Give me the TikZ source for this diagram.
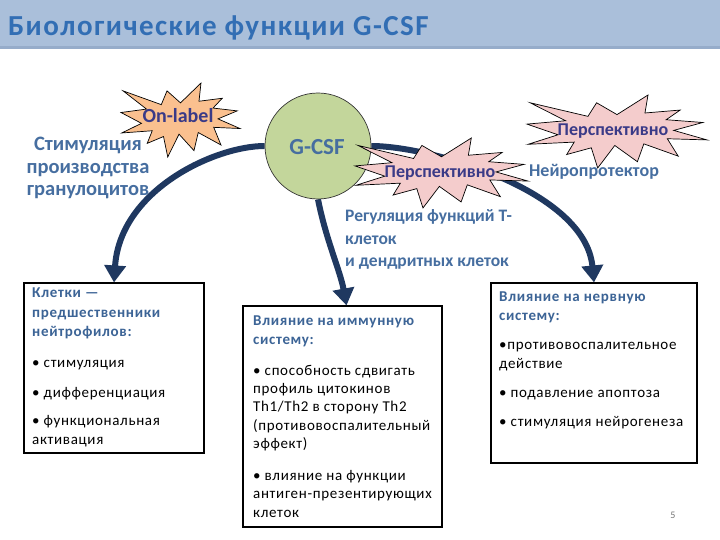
\documentclass[tikz,border=0pt]{standalone}
\usepackage{fontspec}
\setmainfont{Carlito}
\usetikzlibrary{arrows.meta,backgrounds}
\definecolor{barbg}{RGB}{170,191,218}
\definecolor{barline}{RGB}{150,172,202}
\definecolor{titleblue}{RGB}{50,110,180}
\definecolor{navy}{RGB}{31,56,96}
\definecolor{lblue}{RGB}{70,110,160}
\definecolor{purp}{RGB}{58,58,135}
\definecolor{hdrblue}{RGB}{60,100,150}
\definecolor{gcsfgreen}{RGB}{195,214,155}
\definecolor{peach}{RGB}{250,192,143}
\definecolor{pinkb}{RGB}{244,204,204}
\newcommand{\hd}{\bfseries\color{hdrblue}}
\newcommand{\burstpath}{(108,58) -- (145.22,0) -- (141.55,53.25) -- (183.8,44.57) -- (167.02,73.15) -- (210.97,81.37) -- (176.07,104.75) -- (216,132.9) -- (168.37,129.42) -- (181.45,180.95) -- (140.2,144.57) -- (132.47,197.37) -- (105.32,149.35) -- (84.85,216) -- (77.15,156.27) -- (47.62,176.17) -- (56.67,139.37) -- (1.35,145.87) -- (37.22,117.75) -- (0,86.15) -- (46.27,76.17) -- (3.7,22.95) -- (73.12,63.2) -- (83.52,22.95) -- cycle}
\tikzset{
  box/.style={draw=black, line width=1.1pt, fill=white, inner sep=0pt},
  arr/.style={draw=navy, line width=6pt, -{Triangle[width=21pt,length=17pt]}},
  burst/.style={draw=black, line width=0.7pt, line join=miter},
  boxtext/.style={anchor=north west, inner sep=0pt, align=left, text=black},
}
\begin{document}
\begin{tikzpicture}[x=1pt,y=-1pt]
\useasboundingbox (0,0) rectangle (720,540);
\fill[barbg] (0,0) rectangle (720,46);
\fill[barline] (0,46) rectangle (720,49);
\node[anchor=base west, inner sep=0pt, text=titleblue, font=\fontsize{29}{31}\selectfont\bfseries\addfontfeatures{LetterSpace=5}] (title) at (8,36) {Биологические функции G-CSF};

% boxes
\node[box, minimum width=180pt, minimum height=170pt] (b1) at (114,368) {};
\node[box, minimum width=199pt, minimum height=221pt] (b2) at (342.5,416.5) {};
\node[box, minimum width=206pt, minimum height=180pt] (b3) at (594,373) {};

% circle
\node[circle, draw=black!80, line width=0.7pt, fill=gcsfgreen, minimum size=106pt, inner sep=0pt] (gcsf) at (318,146) {};
\node[text=lblue, font=\fontsize{23}{26}\selectfont\bfseries, inner sep=0pt] (gtext) at (317,147) {G-CSF};

% arrows
\begin{pgfonlayer}{background}
\draw[arr] (gcsf.west) .. controls (215,146) and (120,190) .. (b1.north);
\draw[arr] (gcsf.south) .. controls (326,240) and (340,270) .. ([xshift=4pt]b2.north);
\draw[arr] (gcsf.east) .. controls (430,146) and (585,190) .. (b3.north);
\end{pgfonlayer}

% bursts
\draw[burst, fill=peach, shift={(121,83)}, xscale=119/216, yscale=74/216] \burstpath;
\node[text=purp, font=\fontsize{20}{22}\selectfont\bfseries, inner sep=0pt] (onl) at (178,116) {On-label};
\draw[burst, fill=pinkb, shift={(355,138)}, xscale=173/216, yscale=70/216] \burstpath;
\node[text=purp, font=\fontsize{18}{20}\selectfont\bfseries, inner sep=0pt] (p1) at (440,173) {Перспективно};
\draw[burst, fill=pinkb, shift={(527,95)}, xscale=180/216, yscale=73/216] \burstpath;
\node[text=purp, font=\fontsize{18}{20}\selectfont\bfseries, inner sep=0pt] (p2) at (613,131) {Перспективно};

% labels
\node[anchor=north, align=center, inner sep=0pt, text=lblue, font=\fontsize{20.5}{22.5}\selectfont\bfseries] (stim) at (88,137) {Стимуляция\\производства\\гранулоцитов};
\node[text=lblue, font=\fontsize{18}{20}\selectfont\bfseries, inner sep=0pt] (neuro) at (594,172) {Нейропротектор};
\node[anchor=north west, align=left, inner sep=0pt, text=lblue, font=\fontsize{17.5}{22.5}\selectfont\bfseries] (reg) at (345,209.5) {Регуляция функций Т-\\клеток\\и дендритных клеток};

% box texts
\node[boxtext, font=\fontsize{15}{19.3}\selectfont\addfontfeatures{LetterSpace=4.5}] (t1) at (32,288) {{\hd Клетки —}\\{\hd предшественники}\\{\hd нейтрофилов:}\\[11.5pt]• стимуляция\\[10.7pt]• дифференциация\\[8.7pt]• функциональная\\активация};
\node[boxtext, font=\fontsize{15}{18.3}\selectfont\addfontfeatures{LetterSpace=4.5}] (t2) at (253,316) {{\hd Влияние на иммунную}\\{\hd систему:}\\[12.7pt]• способность сдвигать\\профиль цитокинов\\Th1/Th2 в сторону Th2\\(противовоспалительный\\эффект)\\[13.7pt]• влияние на функции\\антиген-презентирующих\\клеток};
\node[boxtext, font=\fontsize{15}{19}\selectfont\addfontfeatures{LetterSpace=4.5}] (t3) at (499,292) {{\hd Влияние на нервную}\\{\hd систему:}\\[9.5pt]•противовоспалительное\\действие\\[10pt]• подавление апоптоза\\[10pt]• стимуляция нейрогенеза};

\node[text=black!55, font=\fontsize{10}{12}\selectfont, inner sep=0pt] (pg) at (673,515) {5};
\end{tikzpicture}
\end{document}
